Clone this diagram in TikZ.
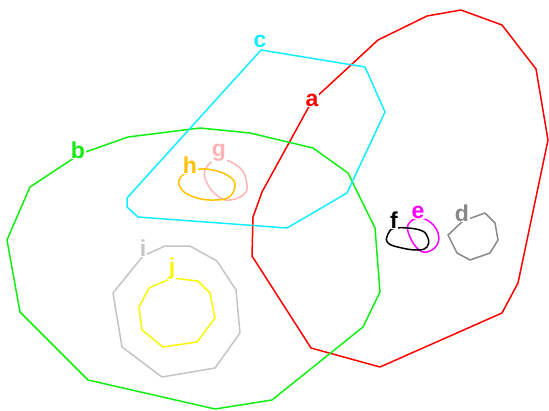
\documentclass[tikz,border=0pt]{standalone}
\usepackage{fontspec}
\setmainfont{Liberation Sans}
\usepackage{tikz}
\usetikzlibrary{positioning}
\definecolor{SetRed}{HTML}{FF0000}
\definecolor{SetGreen}{HTML}{11EE11}
\definecolor{SetCyan}{HTML}{11EEFF}
\definecolor{SetPink}{HTML}{FFB4B4}
\definecolor{SetOrange}{HTML}{FFC000}
\definecolor{SetSilver}{HTML}{C4C4C4}
\definecolor{SetYellow}{HTML}{F8F800}
\definecolor{SetGray}{HTML}{888888}
\definecolor{SetMagenta}{HTML}{FF00FF}
\tikzset{
  setline/.style={line width=1.5pt,line join=round},
  setlabel/.style={fill=white,inner sep=0.5pt,font=\bfseries\fontsize{23}{23}\selectfont}
}
\begin{document}
\begin{tikzpicture}[x=1pt,y=-1pt]
\useasboundingbox (0,0) rectangle (549,410);
% outlines
\draw[setline,SetRed] (312,101) -- (378,40) -- (427,16) -- (461,10) -- (502,25) -- (536,69) -- (548,140) -- (518,283) -- (502,313) -- (380,367) -- (311,348) -- (252,256) -- (253,217) -- (262,192) -- cycle;
\draw[setline,SetGreen] (80,154) -- (128,137) -- (200,128) -- (250,133) -- (313,148) -- (348,173) -- (375,228) -- (380,292) -- (363,327) -- (272,400) -- (215,409) -- (88,380) -- (20,312) -- (7,240) -- (30,187) -- cycle;
\draw[setline,SetCyan] (261,50) -- (365,67) -- (385,112) -- (347,193) -- (287,228) -- (138,217) -- (127,207) -- (127,198) -- cycle;
\draw[setline,SetSilver] (143,256) -- (165,246) -- (190,246) -- (217,261) -- (236,290) -- (240,333) -- (215,368) -- (162,377) -- (122,347) -- (113,293) -- cycle;
\draw[setline,SetYellow] (172,278) -- (198,281) -- (210,293) -- (215,318) -- (197,342) -- (163,347) -- (142,330) -- (139,307) -- (149,288) -- cycle;
\draw[setline,SetGray] (463,221) -- (485,213) -- (495,223) -- (498,240) -- (490,253) -- (470,260) -- (457,253) -- (448,235) -- cycle;
\draw[setline,SetMagenta] plot[smooth cycle,tension=0.7] coordinates {(418,218) (430,222) (438,233) (437,245) (427,252) (418,249) (410,237) (408,225)};
\draw[setline,black] plot[smooth cycle,tension=0.7] coordinates {(396,228) (420,230) (428,238) (427,247) (418,250) (402,248) (388,243) (388,234)};
\draw[setline,SetPink] plot[smooth cycle,tension=0.7] coordinates {(219,159) (240,168) (247,185) (243,195) (230,200) (219,197) (208,185) (205,170)};
\draw[setline,SetOrange] plot[smooth cycle,tension=0.7] coordinates {(194,170) (213,170) (230,177) (235,186) (229,197) (215,200) (197,198) (182,190) (180,178)};
% labels
\node[setlabel,text=SetRed] (la) at (312,100) {a};
\node[setlabel,text=SetGreen] (lb) at (78,150) {b};
\node[setlabel,text=SetCyan] (lc) at (260,41) {c};
\node[setlabel,text=SetGray] (ld) at (462,213) {d};
\node[setlabel,text=SetMagenta] (le) at (418,212) {e};
\node[setlabel,text=black] (lf) at (394,220) {f};
\node[setlabel,text=SetPink] (lg) at (219,153) {g};
\node[setlabel,text=SetOrange] (lh) at (190,165) {h};
\node[setlabel,text=SetSilver] (li) at (143,248) {i};
\node[setlabel,text=SetYellow] (lj) at (172,269) {j};
\end{tikzpicture}
\end{document}
